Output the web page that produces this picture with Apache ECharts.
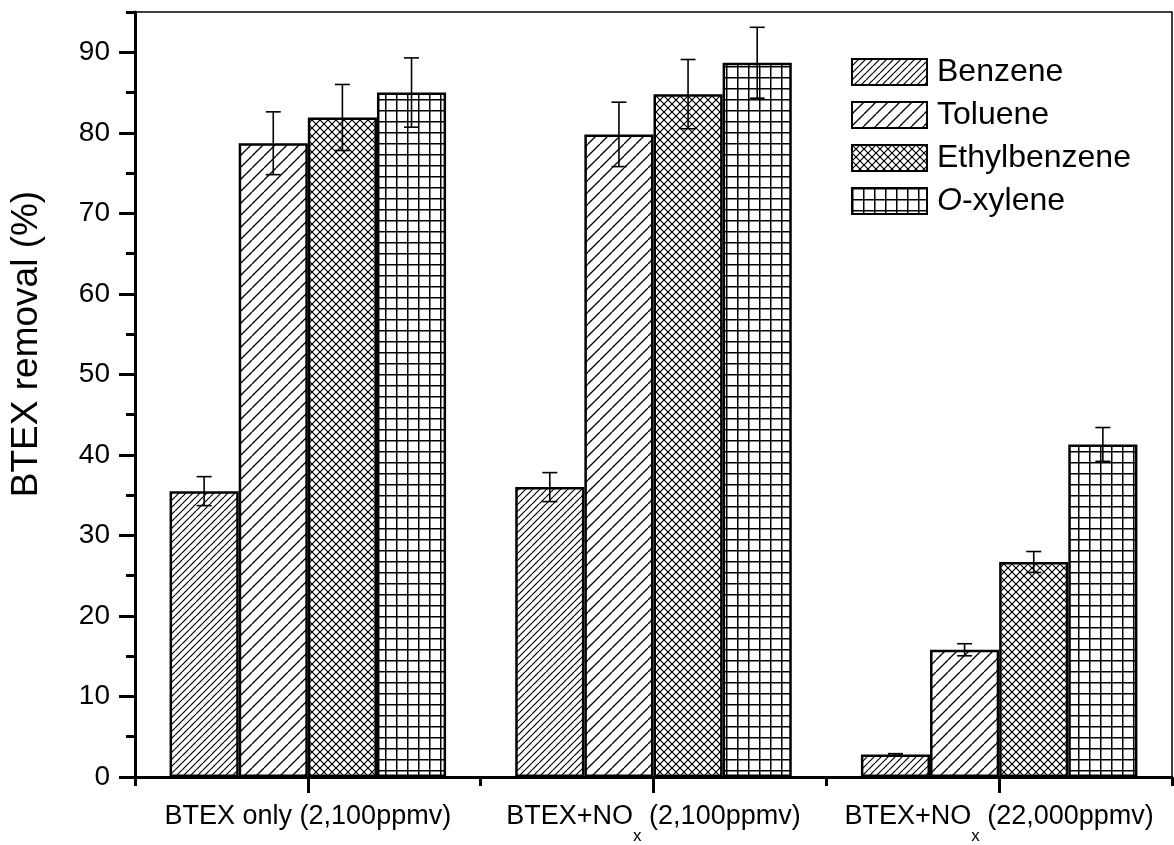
<!DOCTYPE html>
<html>
<head>
<meta charset="utf-8">
<script src="https://cdn.jsdelivr.net/npm/echarts@6/dist/echarts.min.js"></script>
<style>
html,body{margin:0;padding:0;background:#fff;}
#c{width:1174px;height:845px;}
</style>
</head>
<body>
<div id="c"></div>
<script>
// ---- data ----
var categories = ['BTEX only (2,100ppmv)', 'BTEX+NOx (2,100ppmv)', 'BTEX+NOx (22,000ppmv)'];
var seriesNames = ['Benzene', 'Toluene', 'Ethylbenzene', 'O-xylene'];
var benzene = [35.5, 36.0, 2.8];
var benzeneErr = [1.8, 1.8, 0.1];
var toluene = [78.7, 79.8, 15.8];
var tolueneErr = [3.9, 4.0, 0.75];
var ethylbenzene = [81.9, 84.8, 26.7];
var ethylbenzeneErr = [4.1, 4.3, 1.3];
var oxylene = [85.0, 88.7, 41.3];
var oxyleneErr = [4.3, 4.4, 2.1];
var yMajorTicks = [0, 10, 20, 30, 40, 50, 60, 70, 80, 90];
var yMinorTicks = [5, 15, 25, 35, 45, 55, 65, 75, 85, 95];
var yMin = 0, yMax = 95;

// ---- patterns ----
function diag(size, lw, cross) {
  var c = document.createElement('canvas');
  c.width = size; c.height = size;
  var g = c.getContext('2d');
  g.fillStyle = '#fff'; g.fillRect(0, 0, size, size);
  g.strokeStyle = '#000'; g.lineWidth = lw;
  for (var k = -1; k <= 1; k++) {
    g.beginPath(); g.moveTo(k * size, size); g.lineTo(k * size + size, 0); g.stroke();
    if (cross) { g.beginPath(); g.moveTo(k * size, 0); g.lineTo(k * size + size, size); g.stroke(); }
  }
  return c;
}
function grid(size, lw) {
  var c = document.createElement('canvas');
  c.width = size; c.height = size;
  var g = c.getContext('2d');
  g.fillStyle = '#fff'; g.fillRect(0, 0, size, size);
  g.strokeStyle = '#000'; g.lineWidth = lw;
  g.beginPath(); g.moveTo(0.75, 0); g.lineTo(0.75, size); g.stroke();
  g.beginPath(); g.moveTo(0, 0.75); g.lineTo(size, 0.75); g.stroke();
  return c;
}
var patterns = [
  { image: diag(7, 1.2, false), repeat: 'repeat' },
  { image: diag(12, 1.3, false), repeat: 'repeat' },
  { image: diag(8, 1.2, true), repeat: 'repeat' },
  { image: grid(11, 1.5), repeat: 'repeat' }
];
var values = [benzene, toluene, ethylbenzene, oxylene];
var errs = [benzeneErr, tolueneErr, ethylbenzeneErr, oxyleneErr];

var FONT = 'Liberation Sans, Arial, sans-serif';
var chart = echarts.init(document.getElementById('c'), null, { renderer: 'canvas' });

var series = seriesNames.map(function (n, i) {
  return {
    name: n, type: 'bar', xAxisIndex: 0, yAxisIndex: 0,
    barGap: '0%', barCategoryGap: '20%',
    data: values[i],
    itemStyle: { color: patterns[i], borderColor: '#000', borderWidth: 2.5 },
    emphasis: { disabled: true }
  };
});
var errData = [];
for (var s = 0; s < 4; s++) for (var k = 0; k < categories.length; k++) errData.push([k, s, values[s][k], errs[s][k]]);
series.push({
  type: 'custom', xAxisIndex: 0, yAxisIndex: 0, z: 10, silent: true,
  data: errData,
  encode: { x: 0, y: 2 },
  renderItem: function (params, api) {
    var cat = api.value(0), si = api.value(1), v = api.value(2), e = api.value(3);
    var band = api.size([1, 0])[0];
    var bw = band * 0.8 / 4;
    var x = api.coord([cat, v])[0] + (si - 1.5) * bw;
    var t = api.coord([cat, v + e])[1], b = api.coord([cat, v - e])[1];
    var hw = 7.5, st = { stroke: '#000', lineWidth: 1.6 };
    return { type: 'group', children: [
      { type: 'line', shape: { x1: x, y1: t, x2: x, y2: b }, style: st },
      { type: 'line', shape: { x1: x - hw, y1: t, x2: x + hw, y2: t }, style: st },
      { type: 'line', shape: { x1: x - hw, y1: b, x2: x + hw, y2: b }, style: st }
    ] };
  }
});

chart.setOption({
  animation: false,
  backgroundColor: '#fff',
  grid: { left: 135, right: 2, top: 12, bottom: 67, show: true, borderColor: '#000', borderWidth: 1.5 },
  legend: {
    orient: 'vertical', left: 846, top: 51,
    itemWidth: 75, itemHeight: 26, itemGap: 11,
    icon: 'rect',
    data: seriesNames,
    itemStyle: { borderColor: '#000', borderWidth: 2 },
    textStyle: { fontFamily: FONT, fontSize: 32, color: '#000', lineHeight: 30, padding: [0, 0, 0, 5],
      rich: { i: { fontFamily: FONT, fontSize: 32, fontStyle: 'italic', color: '#000' } } },
    formatter: function (n) { return n === 'O-xylene' ? '{i|O}-xylene' : n; }
  },
  graphic: [{
    type: 'text', x: 27, y: 344, rotation: Math.PI / 2,
    style: { text: 'BTEX removal (%)', font: '37px ' + FONT, fill: '#000', align: 'center', verticalAlign: 'middle' }
  }],
  xAxis: [{
    type: 'category', data: categories, position: 'bottom',
    axisLine: { show: true, lineStyle: { color: '#000', width: 3 } },
    axisTick: { show: true, interval: 0, alignWithLabel: true, length: 16, lineStyle: { color: '#000', width: 3 } },
    axisLabel: {
      margin: 26, color: '#000', fontFamily: FONT, fontSize: 27, interval: 0,
      formatter: function (v) {
        var p = v.split('NOx');
        if (p.length === 1) return '{m|' + v + '}';
        return '{m|' + p[0] + 'NO}{sub|x}{m|' + p[1] + '}';
      },
      rich: {
        m: { fontFamily: FONT, fontSize: 27, color: '#000', verticalAlign: 'top' },
        sub: { fontFamily: FONT, fontSize: 17, color: '#000', verticalAlign: 'top', padding: [25, 0, 0, 0] }
      }
    },
    splitLine: { show: false }
  }, {
    type: 'category', data: categories, position: 'bottom',
    axisLine: { show: false },
    axisTick: { show: true, interval: 0, alignWithLabel: false, length: 9, lineStyle: { color: '#000', width: 3 } },
    axisLabel: { show: false },
    splitLine: { show: false }
  }],
  yAxis: [{
    type: 'value', min: yMin, max: yMax, position: 'left',
    axisLine: { show: true, lineStyle: { color: '#000', width: 3 } },
    axisTick: { show: true, length: 16, customValues: yMajorTicks, lineStyle: { color: '#000', width: 3 } },
    axisLabel: { customValues: yMajorTicks, margin: 25, color: '#000', fontFamily: FONT, fontSize: 28 },
    splitLine: { show: false }
  }, {
    type: 'value', min: yMin, max: yMax, position: 'left',
    axisLine: { show: false },
    axisTick: { show: true, length: 9, customValues: yMinorTicks, lineStyle: { color: '#000', width: 3 } },
    axisLabel: { show: false },
    splitLine: { show: false }
  }],
  series: series
});
</script>
</body>
</html>
